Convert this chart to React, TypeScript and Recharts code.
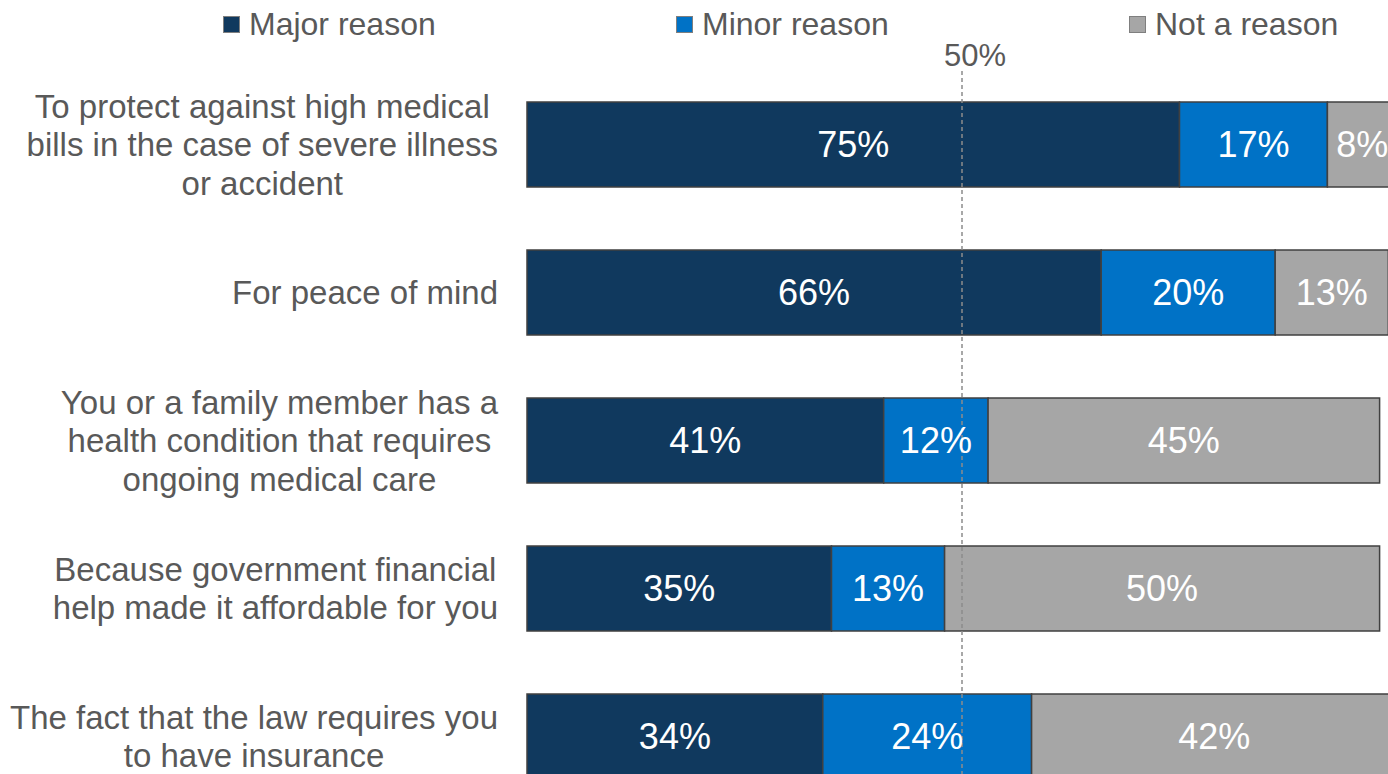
import React from "react"
import { Bar, BarChart, LabelList, ReferenceLine, XAxis, YAxis } from "recharts"

const categories = [
  "To protect against high medical\nbills in the case of severe illness\nor accident",
  "For peace of mind",
  "You or a family member has a\nhealth condition that requires\nongoing medical care",
  "Because government financial\nhelp made it affordable for you",
  "The fact that the law requires you\nto have insurance",
]
const majorValues = [75, 66, 41, 35, 34]
const minorValues = [17, 20, 12, 13, 24]
const notValues = [8, 13, 45, 50, 42]

const series = [
  { key: "major", name: "Major reason", color: "#10395e" },
  { key: "minor", name: "Minor reason", color: "#0072c6" },
  { key: "not", name: "Not a reason", color: "#a6a6a6" },
]

const data = categories.map((category, i) => ({
  category,
  major: majorValues[i],
  minor: minorValues[i],
  not: notValues[i],
}))

const FONT = '"Liberation Sans", Arial, sans-serif'
const TEXT_GRAY = "#595959"

let ctx: CanvasRenderingContext2D | null = null
function measure(text: string, size: number) {
  if (!ctx) ctx = document.createElement("canvas").getContext("2d")
  if (!ctx) return text.length * size * 0.5
  ctx.font = `${size}px ${FONT}`
  return ctx.measureText(text).width
}

function CategoryTick(props: any) {
  const { x, y, payload } = props
  const lines: string[] = String(payload.value).split("\n")
  const size = 33
  const lineHeight = 38.5
  const maxW = Math.max(...lines.map((l) => measure(l, size)))
  const cx = x - maxW / 2
  const startY = y - ((lines.length - 1) * lineHeight) / 2
  return (
    <text
      x={cx}
      y={startY}
      textAnchor="middle"
      fill={TEXT_GRAY}
      fontSize={size}
      fontFamily={FONT}
      dominantBaseline="central"
    >
      {lines.map((l, i) => (
        <tspan key={i} x={cx} y={startY + i * lineHeight} dominantBaseline="central">
          {l}
        </tspan>
      ))}
    </text>
  )
}

function FiftyLabel(props: any) {
  const { viewBox } = props
  return (
    <text
      x={viewBox.x + 13}
      y={viewBox.y - 4}
      textAnchor="middle"
      fill={TEXT_GRAY}
      fontSize={31}
      fontFamily={FONT}
    >
      50%
    </text>
  )
}

export default function App() {
  return (
    <div
      style={{
        position: "fixed",
        left: 0,
        top: 0,
        width: 1388,
        height: 774,
        overflow: "hidden",
        background: "#fff",
        fontFamily: FONT,
      }}
    >
      <div style={{ position: "absolute", left: 223, top: 6, display: "flex" }}>
        {series.map((s) => (
          <div key={s.key} style={{ width: 453, display: "flex", alignItems: "center" }}>
            <span
              style={{
                width: 17,
                height: 17,
                background: s.color,
                border: "1px solid #7f7f7f",
                boxSizing: "border-box",
                marginRight: 9,
              }}
            />
            <span style={{ fontSize: 32, color: TEXT_GRAY, lineHeight: "36px" }}>{s.name}</span>
          </div>
        ))}
      </div>
      <div style={{ position: "absolute", left: 0, top: 0 }}>
        <BarChart
          width={1408}
          height={812}
          data={data}
          layout="vertical"
          margin={{ top: 70, right: 11, bottom: 2, left: 0 }}
          barSize={85}
        >
          <XAxis type="number" domain={[0, 100]} hide />
          <YAxis
            type="category"
            dataKey="category"
            width={527}
            axisLine={false}
            tickLine={false}
            tickSize={0}
            tickMargin={29}
            tick={<CategoryTick />}
            interval={0}
          />
          {series.map((s) => (
            <Bar
              key={s.key}
              dataKey={s.key}
              name={s.name}
              stackId="a"
              fill={s.color}
              stroke="#404040"
              strokeWidth={1.5}
              isAnimationActive={false}
            >
              <LabelList
                dataKey={s.key}
                position="center"
                fill="#ffffff"
                fontSize={36}
                fontFamily={FONT}
                formatter={(v: any) => `${v}%`}
              />
            </Bar>
          ))}
          <ReferenceLine
            x={50}
            stroke="#8c8c8c"
            strokeWidth={1.5}
            strokeDasharray="4 3"
            label={<FiftyLabel />}
          />
        </BarChart>
      </div>
    </div>
  )
}
